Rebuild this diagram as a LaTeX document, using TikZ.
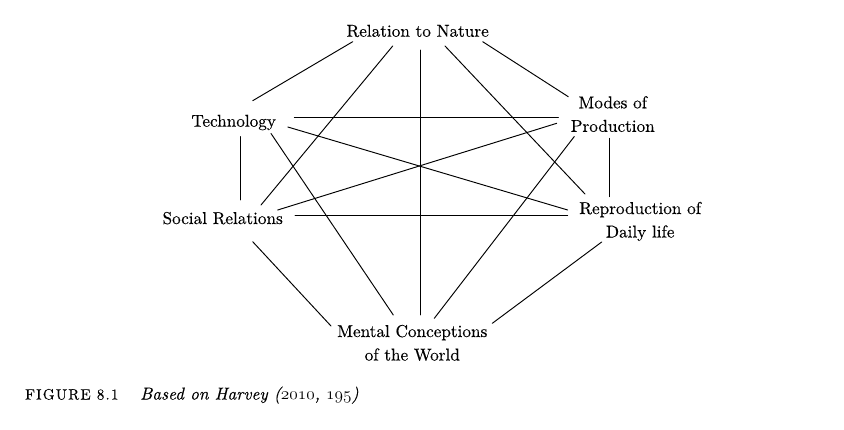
\documentclass[tikz,border=0pt]{standalone}
\usepackage{fontspec}
\setmainfont{lmroman10-regular}[Extension=.otf, UprightFont=*, ItalicFont=lmroman10-italic, BoldFont=lmroman10-bold, FakeBold=0.3]
\begin{document}
\begin{tikzpicture}[x=1pt,y=-1pt,
  lbl/.style={font=\fontsize{17.2}{23.5}\selectfont, inner sep=0pt, align=center},
  con/.style={line width=0.95pt, line cap=round},
  capfont/.style={font=\fontsize{17.2}{20}\selectfont, inner sep=0pt}]
\useasboundingbox[fill=white] (0,0) rectangle (844,429);
% labels (anchor base = baseline of the last line)
\node[lbl,anchor=base] (rn) at (417.7,36.7) {Relation to Nature};
\node[lbl,anchor=base] (tech) at (233.7,126.7) {Technology};
\node[lbl,anchor=base] (modes) at (612.8,131.8) {Modes of\\Production};
\node[lbl,anchor=base] (soc) at (222.7,224) {Social Relations};
\node[lbl,anchor=base] (rep) at (640.2,237.5) {Reproduction of\\Daily life};
\node[lbl,anchor=base] (men) at (412.3,360.5) {Mental Conceptions\\of the World};
% connector end points
\coordinate (rnA) at (352.7,41.7);
\coordinate (rnB) at (392.7,46);
\coordinate (rnC) at (420.5,50);
\coordinate (rnD) at (445,46);
\coordinate (rnE) at (482.7,41.7);
\coordinate (teA) at (252.7,100.7);
\coordinate (teB) at (294.3,117.7);
\coordinate (teC) at (287.8,127);
\coordinate (teD) at (271,133.5);
\coordinate (teE) at (240.5,136.7);
\coordinate (moA) at (568.3,96.7);
\coordinate (moB) at (558.3,117.7);
\coordinate (moC) at (556.7,123.3);
\coordinate (moD) at (574.3,136.5);
\coordinate (moE) at (609,138.3);
\coordinate (soA) at (261,205);
\coordinate (soB) at (240.5,200);
\coordinate (soC) at (277.7,210);
\coordinate (soD) at (295,215.7);
\coordinate (soE) at (252.7,241.7);
\coordinate (reA) at (585,194);
\coordinate (reB) at (567.7,210);
\coordinate (reC) at (567.7,215.7);
\coordinate (reD) at (609,196.7);
\coordinate (reE) at (601.7,242);
\coordinate (meA) at (331,326);
\coordinate (meB) at (393.3,315);
\coordinate (meC) at (420.5,315);
\coordinate (meD) at (434.3,318.3);
\coordinate (meE) at (492.3,323.3);
% connectors
\draw[con] (rnA) -- (teA);
\draw[con] (rnB) -- (soA);
\draw[con] (rnC) -- (meC);
\draw[con] (rnD) -- (reA);
\draw[con] (rnE) -- (moA);
\draw[con] (teB) -- (moB);
\draw[con] (teC) -- (reB);
\draw[con] (teD) -- (meB);
\draw[con] (teE) -- (soB);
\draw[con] (soC) -- (moC);
\draw[con] (soD) -- (reC);
\draw[con] (soE) -- (meA);
\draw[con] (moE) -- (reD);
\draw[con] (moD) -- (meD);
\draw[con] (reE) -- (meE);
% caption
\node[inner sep=0pt,anchor=base west,font=\fontsize{15}{18}\selectfont] (capa) at (25,399.5) {\addfontfeatures{LetterSpace=8}FIGURE 8.1};
\node[capfont,anchor=base west] (capb) at (140,399.5) {\itshape Based on Harvey ({\usefont{OML}{cmm}{m}{it}2010}, {\usefont{OML}{cmm}{m}{it}195})};
\end{tikzpicture}
\end{document}
